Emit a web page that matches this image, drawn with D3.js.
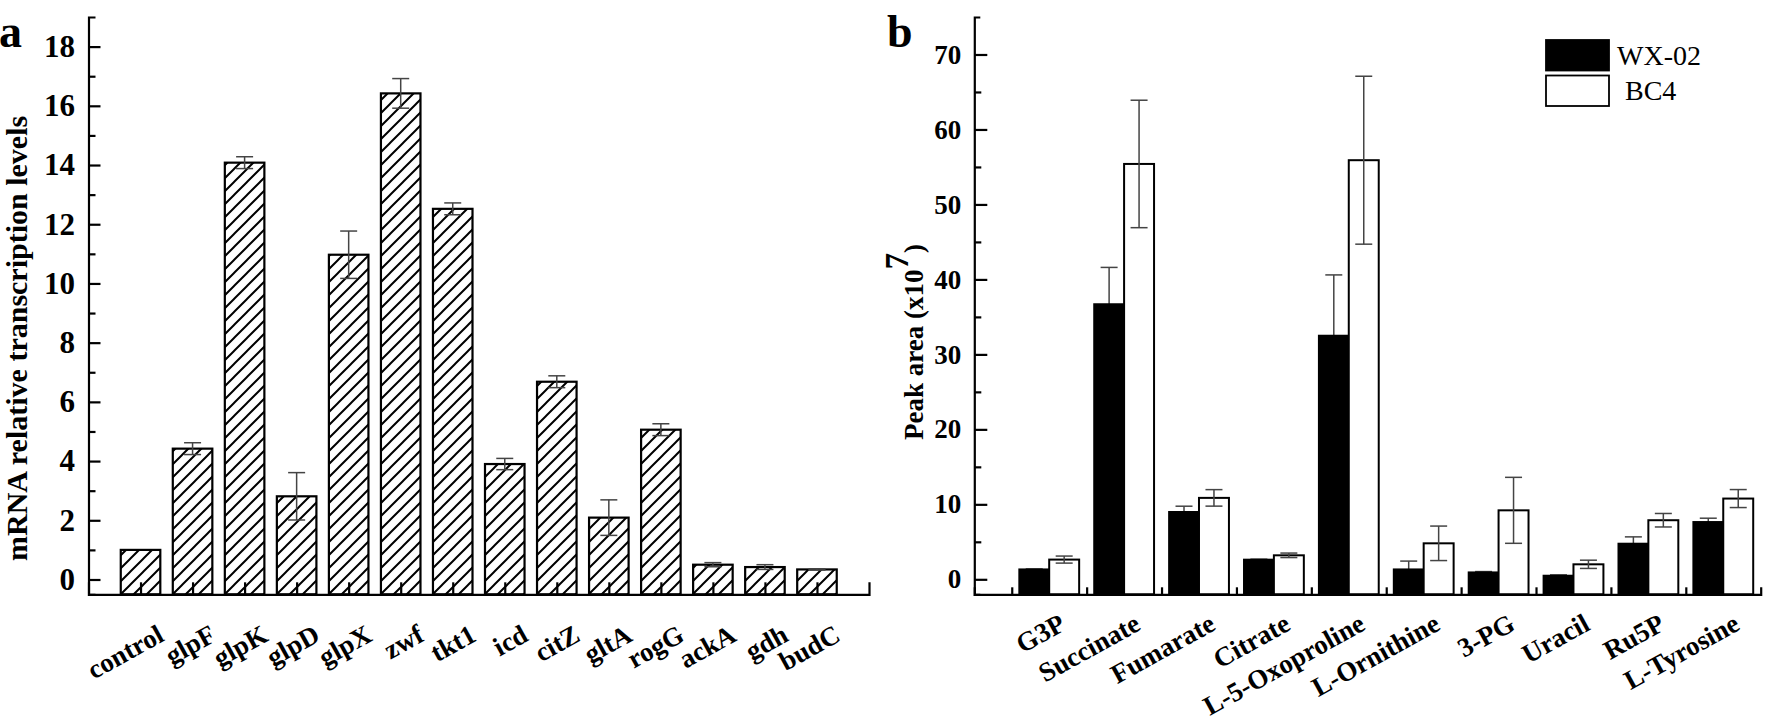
<!DOCTYPE html>
<html>
<head>
<meta charset="utf-8">
<script src="https://cdn.jsdelivr.net/npm/d3@7/dist/d3.min.js"></script>
<style>
  html, body { margin: 0; padding: 0; background: #fff; }
  svg { display: block; }
  text { font-family: "Liberation Serif", "Times New Roman", serif; }
</style>
</head>
<body>
<svg id="chart" width="1772" height="722"></svg>
<script>
// ---------- Panel a data ----------
const genes = ["control","glpF","glpK","glpD","glpX","zwf","tkt1","icd","citZ","gltA","rogG","ackA","gdh","budC"];
const geneLevels = [1.0, 4.42, 14.08, 2.81, 10.97, 16.42, 12.52, 3.90, 6.68, 2.09, 5.06, 0.50, 0.42, 0.34];
const geneErrors = [0, 0.2, 0.2, 0.8, 0.8, 0.5, 0.2, 0.19, 0.2, 0.6, 0.2, 0.07, 0.08, 0.02];
const ticksA = [0, 2, 4, 6, 8, 10, 12, 14, 16, 18];
const minorTicksA = [1, 3, 5, 7, 9, 11, 13, 15, 17];

// ---------- Panel b data ----------
const metabolites = ["G3P","Succinate","Fumarate","Citrate","L-5-Oxoproline","L-Ornithine","3-PG","Uracil","Ru5P","L-Tyrosine"];
const wx02 = [1.33, 36.7, 8.99, 2.63, 32.5, 1.33, 0.93, 0.49, 4.76, 7.65];
const wx02Err = [0.05, 4.9, 0.76, 0.05, 8.1, 1.1, 0.1, 0.1, 0.9, 0.5];
const bc4 = [2.63, 55.4, 10.86, 3.2, 55.9, 4.8, 9.2, 2.0, 7.88, 10.77];
const bc4Err = [0.47, 8.5, 1.1, 0.3, 11.2, 2.3, 4.4, 0.55, 0.9, 1.2];
const ticksB = [0, 10, 20, 30, 40, 50, 60, 70];
const minorTicksB = [5, 15, 25, 35, 45, 55, 65];
const seriesNames = ["WX-02", "BC4"];

const svg = d3.select("#chart");
svg.append("rect").attr("width", 1772).attr("height", 722).attr("fill", "#fff");

// hatch pattern
const defs = svg.append("defs");
const hs = 13;
const pat = defs.append("pattern").attr("id", "hatch")
  .attr("patternUnits", "userSpaceOnUse").attr("width", hs).attr("height", hs);
pat.append("rect").attr("width", hs).attr("height", hs).attr("fill", "#fff");
pat.append("path")
  .attr("d", `M0,${hs} L${hs},0 M${-hs/2},${hs/2} L${hs/2},${-hs/2} M${hs/2},${hs*1.5} L${hs*1.5},${hs/2}`)
  .attr("stroke", "#000").attr("stroke-width", 2);

const AXW = 2.2;
const LABEL_ANGLE = -29;
const LABEL_SIZE = 27;
function styleAxis(g) {
  g.selectAll("path.domain").attr("stroke", "#000").attr("stroke-width", AXW);
  g.selectAll(".tick line").attr("stroke", "#000").attr("stroke-width", AXW);
}

// ================= Panel a =================
const xA = d3.scalePoint().domain(genes).range([88.5, 869]).padding(1);
const yA = d3.scaleLinear().domain([-0.5, 19]).range([594.3, 17]);
const stepA = xA.step();
const bwA = stepA * 0.76;

const gA = svg.append("g");

gA.selectAll("rect.bar").data(genes).enter().append("rect")
  .attr("x", d => xA(d) - bwA / 2)
  .attr("y", (d, i) => yA(geneLevels[i]))
  .attr("width", bwA)
  .attr("height", (d, i) => yA(-0.5) - yA(geneLevels[i]))
  .attr("fill", "url(#hatch)")
  .attr("stroke", "#000").attr("stroke-width", 2.2);

const capA = 17;
genes.forEach((d, i) => {
  const e = geneErrors[i];
  if (e <= 0) return;
  const cx = xA(d);
  const y1 = yA(geneLevels[i] + e), y2 = yA(geneLevels[i] - e);
  gA.append("line").attr("x1", cx).attr("x2", cx).attr("y1", y1).attr("y2", y2)
    .attr("stroke", "#444").attr("stroke-width", 1.5);
  [y1, y2].forEach(yy => gA.append("line").attr("x1", cx - capA / 2).attr("x2", cx + capA / 2)
    .attr("y1", yy).attr("y2", yy).attr("stroke", "#444").attr("stroke-width", 1.5));
});

const xAxisA = gA.append("g").attr("transform", `translate(0,${yA(-0.5)})`)
  .call(d3.axisBottom(xA).tickSize(-12).tickSizeOuter(-12).tickFormat(""));
styleAxis(xAxisA);

gA.selectAll("text.xl").data(genes).enter().append("text")
  .attr("transform", d => `translate(${xA(d) + 25},640) rotate(${LABEL_ANGLE})`)
  .attr("text-anchor", "end")
  .attr("font-size", LABEL_SIZE).attr("font-weight", "bold")
  .text(d => d);

const yAxisA = gA.append("g").attr("transform", `translate(88.5,0)`)
  .call(d3.axisLeft(yA).tickValues(ticksA).tickSize(-12).tickSizeOuter(-7).tickPadding(13.5).tickFormat(d3.format("d")));
styleAxis(yAxisA);
yAxisA.selectAll("text").attr("font-size", 31).attr("font-weight", "bold").attr("fill", "#000")
  .attr("font-family", "'Liberation Serif', 'Times New Roman', serif");
const yMinorA = gA.append("g").attr("transform", `translate(88.5,0)`)
  .call(d3.axisLeft(yA).tickValues(minorTicksA).tickSize(-7).tickFormat(""));
yMinorA.select("path.domain").remove();
styleAxis(yMinorA);

gA.append("text").attr("transform", "translate(27,561) rotate(-90)")
  .attr("text-anchor", "start").attr("font-size", 30).attr("font-weight", "bold")
  .text("mRNA relative transcription levels");

svg.append("text").attr("x", -1).attr("y", 47).attr("font-size", 46).attr("font-weight", "bold").text("a");

// ================= Panel b =================
const xB = d3.scaleLinear().domain([-0.5, 10]).range([974.3, 1760.7]);
const yB = d3.scaleLinear().domain([-2, 75]).range([594.3, 17]);
const gB = svg.append("g");
const bwB = 0.4;
const capB = 17;
function errBar(cx, v, e, color) {
  const y1 = yB(v + e), y2 = yB(v - e);
  gB.append("line").attr("x1", cx).attr("x2", cx).attr("y1", y1).attr("y2", y2)
    .attr("stroke", color).attr("stroke-width", 1.5);
  [y1, y2].forEach(yy => gB.append("line").attr("x1", cx - capB / 2).attr("x2", cx + capB / 2)
    .attr("y1", yy).attr("y2", yy).attr("stroke", color).attr("stroke-width", 1.5));
}

// WX-02 error bars drawn first so the black bar hides their lower half
metabolites.forEach((d, i) => errBar(xB(i + 0.5 - bwB / 2), wx02[i], wx02Err[i], "#444"));

gB.selectAll("rect.wx").data(metabolites).enter().append("rect")
  .attr("x", (d, i) => xB(i + 0.5 - bwB))
  .attr("y", (d, i) => yB(wx02[i]))
  .attr("width", xB(bwB) - xB(0))
  .attr("height", (d, i) => yB(-2) - yB(wx02[i]))
  .attr("fill", "#000").attr("stroke", "#000").attr("stroke-width", 1.8);
gB.selectAll("rect.bc").data(metabolites).enter().append("rect")
  .attr("x", (d, i) => xB(i + 0.5))
  .attr("y", (d, i) => yB(bc4[i]))
  .attr("width", xB(bwB) - xB(0))
  .attr("height", (d, i) => yB(-2) - yB(bc4[i]))
  .attr("fill", "#fff").attr("stroke", "#000").attr("stroke-width", 2);

metabolites.forEach((d, i) => errBar(xB(i + 0.5 + bwB / 2), bc4[i], bc4Err[i], "#444"));

const xAxisB = gB.append("g").attr("transform", `translate(0,${yB(-2)})`)
  .call(d3.axisBottom(xB).tickValues(d3.range(0, 10)).tickSize(-7).tickSizeOuter(-7).tickFormat(""));
styleAxis(xAxisB);

gB.selectAll("text.xl").data(metabolites).enter().append("text")
  .attr("transform", (d, i) => `translate(${xB(i + 0.5) + 18},629) rotate(${LABEL_ANGLE})`)
  .attr("text-anchor", "end")
  .attr("font-size", LABEL_SIZE).attr("font-weight", "bold")
  .text(d => d);

const yAxisB = gB.append("g").attr("transform", `translate(974.3,0)`)
  .call(d3.axisLeft(yB).tickValues(ticksB).tickSize(-13).tickSizeOuter(-6).tickPadding(13).tickFormat(d3.format("d")));
styleAxis(yAxisB);
yAxisB.selectAll("text").attr("font-size", 27).attr("font-weight", "bold").attr("fill", "#000")
  .attr("font-family", "'Liberation Serif', 'Times New Roman', serif");
const yMinorB = gB.append("g").attr("transform", `translate(974.3,0)`)
  .call(d3.axisLeft(yB).tickValues(minorTicksB).tickSize(-7).tickFormat(""));
yMinorB.select("path.domain").remove();
styleAxis(yMinorB);

const yl = gB.append("text").attr("transform", "translate(923,440) rotate(-90)")
  .attr("text-anchor", "start").attr("font-size", 27).attr("font-weight", "bold");
yl.append("tspan").text("Peak area (x10");
yl.append("tspan").attr("font-size", 33).attr("dy", -15).text("7");
yl.append("tspan").attr("dy", 15).attr("font-size", 27).text(")");

svg.append("text").attr("x", 887).attr("y", 47).attr("font-size", 46).attr("font-weight", "bold").text("b");

const legend = svg.append("g");
seriesNames.forEach((s, i) => {
  legend.append("rect").attr("x", 1546).attr("y", 40 + i * 35.5).attr("width", 63).attr("height", 30.5)
    .attr("fill", i === 0 ? "#000" : "#fff").attr("stroke", "#000").attr("stroke-width", 1.8);
  legend.append("text").attr("x", i === 0 ? 1617 : 1625).attr("y", 65 + i * 35)
    .attr("font-size", 28).text(s);
});
</script>
</body>
</html>
